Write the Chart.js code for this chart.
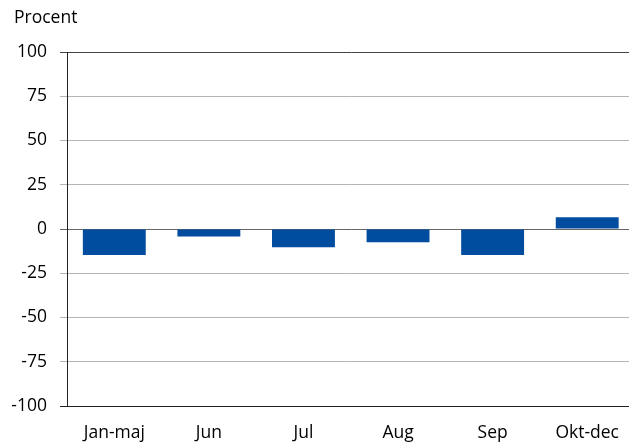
<!DOCTYPE html>
<html>
<head>
<meta charset="utf-8">
<script src="https://cdn.jsdelivr.net/npm/chart.js@4"></script>
<style>
  html, body { margin: 0; padding: 0; background: #fff; overflow: hidden; }
  #wrap { width: 636px; height: 444px; }
</style>
</head>
<body>
<div id="wrap"><canvas id="myChart"></canvas></div>
<script>
// data
var categories = ['Jan-maj', 'Jun', 'Jul', 'Aug', 'Sep', 'Okt-dec'];
var values = [-14.7, -4.3, -10.3, -7.5, -14.7, 6.6];
var yTicks = [100, 75, 50, 25, 0, -25, -50, -75, -100];

var fontFamily = '"Open Sans", "Liberation Sans", sans-serif';
var fontSize = 17.5;

// draw the "Procent" label in the top left corner
var unitLabel = {
    id: 'unitLabel',
    afterDraw: function (chart) {
        var ctx = chart.ctx;
        ctx.save();
        ctx.font = fontSize + 'px ' + fontFamily;
        ctx.fillStyle = '#000';
        ctx.textBaseline = 'middle';
        ctx.textAlign = 'left';
        ctx.fillText('Procent', 14, 18);
        ctx.restore();
    }
};

function gridColor(ctx) {
    var v = ctx.tick ? ctx.tick.value : null;
    if (v === 100) return '#444';
    if (v === 0) return '#666';
    if (v === -100) return '#222';
    return '#b4b4b4';
}

new Chart(document.querySelector('#myChart'), {
    type: 'bar',
    data: {
        labels: categories,
        datasets: [{
            data: values,
            backgroundColor: '#004C9F',
            borderWidth: 0,
            categoryPercentage: 1,
            barPercentage: 0.665
        }]
    },
    options: {
        responsive: true,
        maintainAspectRatio: false,
        animation: false,
        layout: { padding: { top: 52, right: 0, left: 0, bottom: 0 } },
        plugins: {
            legend: { display: false },
            tooltip: { enabled: false }
        },
        scales: {
            x: {
                grid: { display: false, drawTicks: false },
                border: { color: '#222', width: 1 },
                ticks: {
                    color: '#000',
                    font: { family: fontFamily, size: fontSize },
                    padding: 17,
                    maxRotation: 0
                },
                afterFit: function (scale) { scale.height = 38; }
            },
            y: {
                min: -100,
                max: 100,
                afterBuildTicks: function (scale) {
                    scale.ticks = yTicks.map(function (v) { return { value: v }; });
                },
                grid: {
                    color: gridColor,
                    tickLength: 7,
                    lineWidth: 1
                },
                border: { color: '#222', width: 1 },
                ticks: {
                    color: '#000',
                    font: { family: fontFamily, size: fontSize },
                    padding: 13
                },
                afterFit: function (scale) { scale.width = 67; }
            }
        }
    },
    plugins: [unitLabel]
});
</script>
</body>
</html>
